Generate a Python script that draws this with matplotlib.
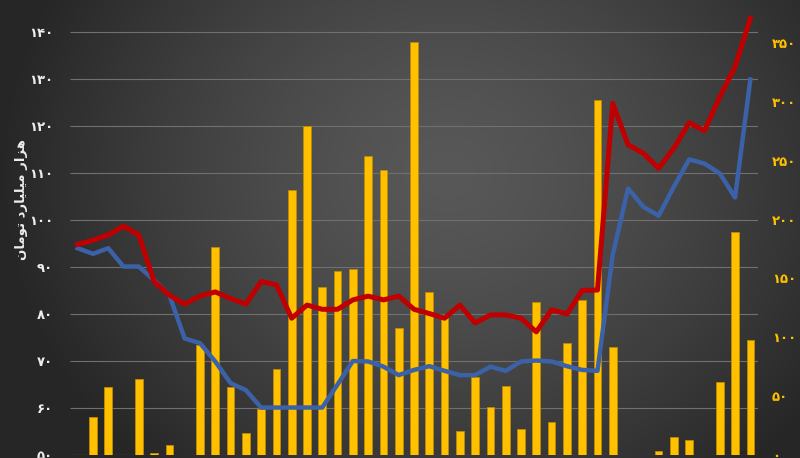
# Gráfico: barras (eje derecho) y dos líneas (eje izquierdo), estilo oscuro
import numpy as np
import matplotlib
matplotlib.use('Agg')
import matplotlib.pyplot as plt

# Datos (45 periodos)
barras = [np.nan, 32, 57.5, np.nan, 64.6, 1.5, 8.8, np.nan, 93.5, 176.5, 58, 19, 38.8,
          72.8, 225, 279.8, 142.5, 156.6, 158.3, 254.3, 242, 107.6, 350.6, 138.2, 119,
          20.6, 66.5, 41, 58.6, 21.8, 130, 27.8, 94.9, 132, 301.6, 91.5, np.nan, np.nan,
          3.7, 15, 12.7, np.nan, 61.8, 189.2, 97.7]
linea_roja = [94.8, 95.7, 96.8, 98.7, 96.8, 86.9, 84, 82.1, 83.8, 84.7, 83.3, 82.1, 86.9,
              86.2, 79.1, 81.9, 81, 81, 83, 83.8, 83, 83.8, 81, 80.1, 79.1, 81.9, 78.1,
              79.8, 79.8, 79.1, 76.2, 80.9, 80, 85, 85.1, 124.8, 116, 114.2, 111, 115.3,
              120.7, 119, 126.2, 132.6, 142.9]
linea_azul = [94, 92.8, 94, 90.1, 90.1, 87.2, 84, 74.8, 73.8, 69.9, 65.3, 63.8, 60.1,
              60.1, 60.1, 60.1, 60.1, 65, 70, 69.9, 68.8, 67, 68.1, 68.9, 67.9, 67, 67,
              68.8, 67.9, 69.9, 70.1, 69.9, 68.9, 68.1, 67.9, 92.6, 106.7, 102.8, 100.9,
              107.1, 112.9, 112, 109.9, 104.8, 129.9]

ticks_izq = [50, 60, 70, 80, 90, 100, 110, 120, 130, 140]
ticks_der = [0, 50, 100, 150, 200, 250, 300, 350]

# Texto en persa (formas de presentación, orden visual)
etiqueta_y = '\ufee5\ufe8e\ufee3\ufeee\ufe97 \ufea9\ufead\ufe8e\ufef4\ufee0\ufef4\ufee3 \ufead\ufe8d\ufeb0\ufeeb'
digitos = str.maketrans('0123456789', '۰۱۲۳۴۵۶۷۸۹')

def persa(n):
    return str(n).translate(digitos)

x = np.arange(len(barras))
b = np.array(barras, dtype=float)
hay = ~np.isnan(b)

fig = plt.figure(figsize=(8, 4.58), dpi=100)

# Fondo con degradado radial
fondo = fig.add_axes([0, 0, 1, 1], zorder=-5)
gx, gy = np.meshgrid(np.linspace(0, 1, 400), np.linspace(0, 1, 230))
r = np.sqrt(((gx - 0.56) / 0.55) ** 2 + ((gy - 0.38) / 0.85) ** 2)
brillo = np.clip(0.345 - 0.19 * r ** 1.4, 0.15, 0.36)
fondo.imshow(np.dstack([brillo] * 3), aspect='auto', extent=[0, 1, 0, 1], origin='upper')
fondo.axis('off')

pos = [70 / 800, 3 / 458, 688 / 800, 450 / 458]
ax_b = fig.add_axes(pos)
ax_l = ax_b.twinx()

for a in (ax_b, ax_l):
    a.patch.set_visible(False)
    for s in a.spines.values():
        s.set_visible(False)
    a.tick_params(length=0)

ax_l.set_ylim(50, 50 + 450 / 4.7)
ax_b.set_ylim(0, 450 / 1.177)
ax_b.set_xlim(-0.5, len(barras) - 0.5)
ax_b.set_xticks([])

# Líneas de rejilla (según el eje izquierdo), detrás de las barras
ax_b.hlines(ticks_izq, -0.5, len(barras) - 0.5, colors='#707070', linewidth=0.8,
            transform=ax_l.transData, zorder=0)

ax_b.bar(x[hay], b[hay], width=0.5, color='#FFC000', edgecolor='#C08A00',
         linewidth=0.6, zorder=2)

ax_l.plot(x, linea_azul, color='#3B62A8', linewidth=3.2, solid_joinstyle='round', zorder=3)
ax_l.plot(x, linea_roja, color='#C00000', linewidth=3.6, solid_joinstyle='round', zorder=4)

# Ejes: izquierdo para las líneas, derecho para las barras
ax_b.yaxis.tick_right()
ax_l.yaxis.tick_left()
ax_b.set_yticks(ticks_der)
ax_b.set_yticklabels([persa(t) for t in ticks_der], color='#FFC000',
                     fontsize=9.5, fontweight='bold', family='DejaVu Sans')
ax_b.tick_params(axis='y', pad=10)
ax_l.set_yticks(ticks_izq)
ax_l.set_yticklabels([persa(t) for t in ticks_izq], color='#EDEDED',
                     fontsize=9.5, fontweight='bold', family='DejaVu Sans')
ax_l.tick_params(axis='y', pad=12)

fig.text(22 / 800, 1 - 200 / 458, etiqueta_y, rotation=90, color='#EDEDED',
         fontsize=9.5, fontweight='bold', ha='center', va='center', family='DejaVu Sans')

fig.savefig('out.png', dpi=100)
plt.close(fig)
